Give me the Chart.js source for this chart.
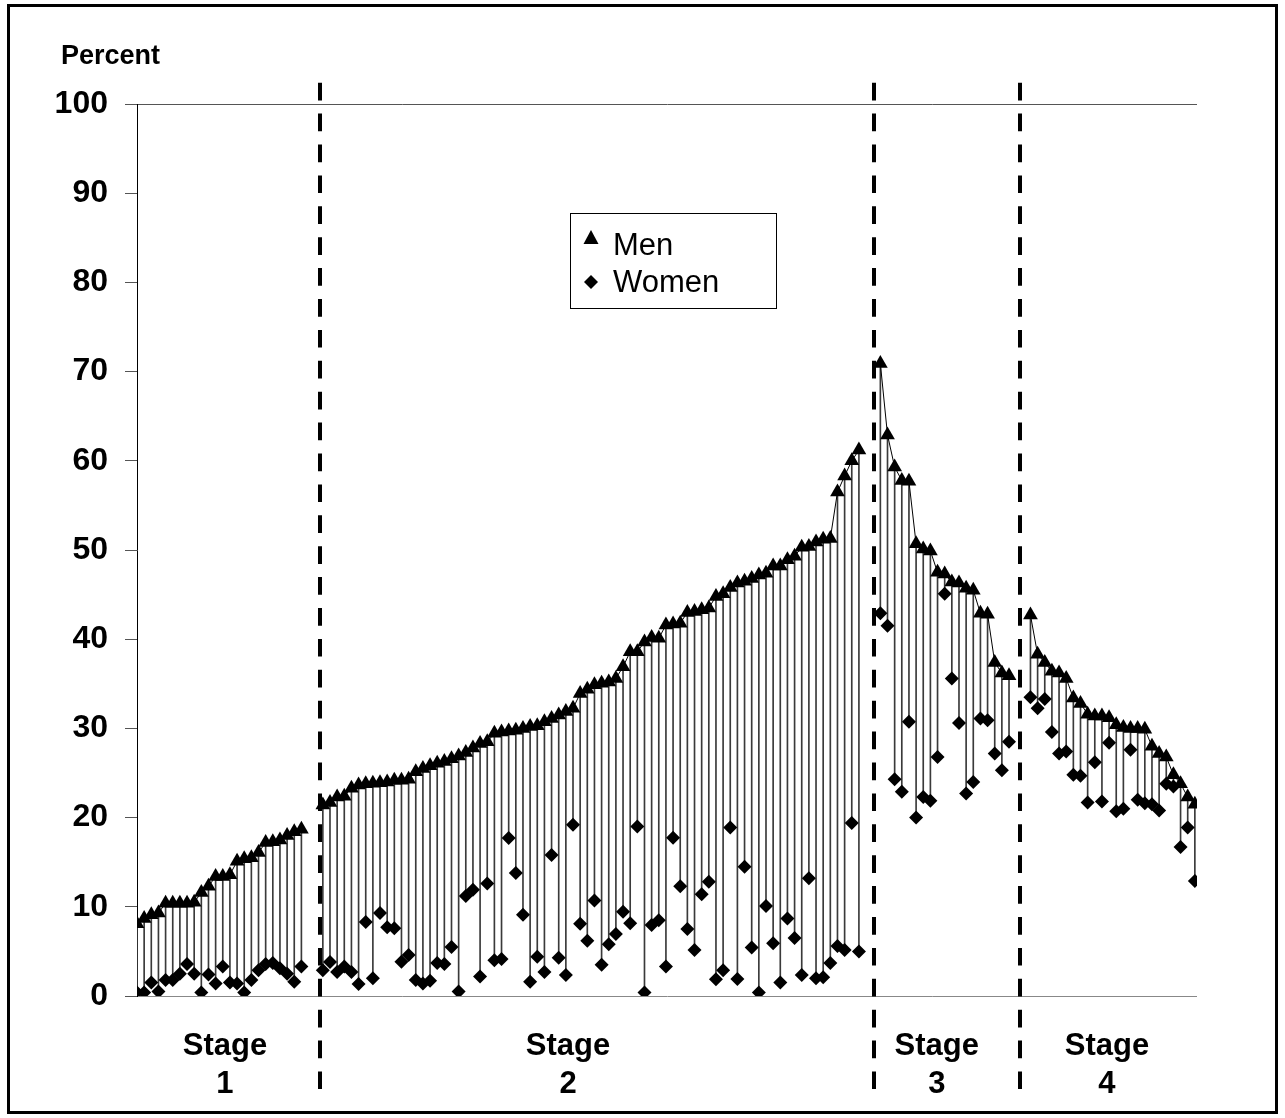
<!DOCTYPE html>
<html>
<head>
<meta charset="utf-8">
<script src="https://cdn.jsdelivr.net/npm/chart.js@4.4.1/dist/chart.umd.min.js"></script>
<style>
  html, body { margin: 0; padding: 0; background: #fff; }
  #wrap { width: 1285px; height: 1118px; }
</style>
</head>
<body>
<div id="wrap"><canvas id="stageChart" width="1285" height="1118"></canvas></div>
<script>
// Men / Women percent, 4 stages

const stage1Men = [8.1, 8.7, 9.1, 9.3, 10.4, 10.4, 10.4, 10.4, 10.5, 11.6, 12.3, 13.4, 13.4, 13.6, 15.1, 15.4, 15.5, 16.1, 17.2, 17.3, 17.5, 18.0, 18.4, 18.7];
const stage1Women = [0.4, 0.4, 1.5, 0.5, 1.8, 1.8, 2.5, 3.6, 2.5, 0.4, 2.4, 1.4, 3.3, 1.5, 1.4, 0.4, 1.8, 2.9, 3.6, 3.7, 3.1, 2.5, 1.6, 3.3];

const stage2Men = [
    21.4, 21.7, 22.3, 22.4, 23.3, 23.65, 23.8, 23.85, 23.9, 24.0,
    24.2, 24.2, 24.3, 25.15, 25.5, 25.8, 26.1, 26.3, 26.6, 26.9,
    27.3, 27.8, 28.3, 28.5, 29.45, 29.6, 29.7, 29.8, 30.0, 30.2,
    30.3, 30.75, 31.1, 31.5, 31.9, 32.25, 33.9, 34.4, 34.9, 35.05,
    35.2, 35.6, 36.9, 38.6, 38.6, 39.7, 40.2, 40.1, 41.6, 41.7,
    41.8, 43.0, 43.1, 43.3, 43.5, 44.8, 45.1, 45.8, 46.3, 46.5,
    46.8, 47.2, 47.4, 48.2, 48.2, 48.9, 49.3, 50.3, 50.4, 50.9,
    51.2, 51.3, 56.5, 58.3, 60.0, 61.2
];
const stage2Women = [
    2.9, 3.8, 2.7, 3.3, 2.7, 1.35, 8.3, 2.0, 9.3, 7.7,
    7.6, 3.85, 4.6, 1.8, 1.4, 1.7, 3.7, 3.6, 5.5, 0.5,
    11.2, 11.9, 2.2, 12.6, 4.0, 4.15, 17.7, 13.8, 9.1, 1.6,
    4.4, 2.7, 15.8, 4.3, 2.35, 19.2, 8.1, 6.2, 10.7, 3.5,
    5.8, 6.95, 9.45, 8.15, 19.0, 0.4, 7.96, 8.5, 3.3, 17.75,
    12.3, 7.5, 5.15, 11.4, 12.8, 1.87, 2.9, 18.9, 1.9, 14.5,
    5.45, 0.4, 10.1, 5.9, 1.5, 8.7, 6.5, 2.35, 13.2, 2.0,
    2.1, 3.7, 5.6, 5.15, 19.4, 5.0
];

const stage3Men = [70.9, 62.9, 59.3, 57.8, 57.7, 50.7, 50.1, 49.9, 47.5, 47.3, 46.4, 46.3, 45.7, 45.5, 42.9, 42.8, 37.4, 36.2, 35.9];
const stage3Women = [42.9, 41.5, 24.3, 22.9, 30.75, 20.0, 22.3, 21.9, 26.8, 45.1, 35.6, 30.6, 22.7, 24.0, 31.1, 30.9, 27.2, 25.3, 28.5];

const stage4Men = [42.7, 38.3, 37.4, 36.4, 36.2, 35.6, 33.4, 32.8, 31.6, 31.4, 31.4, 31.2, 30.4, 30.1, 30.0, 30.0, 29.9, 28.0, 27.2, 26.8, 24.8, 23.8, 22.3, 21.5];
const stage4Women = [33.5, 32.25, 33.3, 29.6, 27.2, 27.4, 24.8, 24.7, 21.7, 26.2, 21.8, 28.4, 20.7, 21.0, 27.6, 22.0, 21.6, 21.5, 20.8, 23.8, 23.5, 16.7, 18.9, 12.9];

// category slot where each stage begins (two empty slots between stages)
const stageStart = [0, 26, 104, 125];
const stageDividers = [25.6, 103.1, 123.6];
const stageLabels = [['Stage', '1'], ['Stage', '2'], ['Stage', '3'], ['Stage', '4']];
const stageLabelPos = [12.3, 60.3, 111.9, 135.7];
const yTicks = [0, 10, 20, 30, 40, 50, 60, 70, 80, 90, 100];

const menStages = [stage1Men, stage2Men, stage3Men, stage4Men];
const womenStages = [stage1Women, stage2Women, stage3Women, stage4Women];

const FONT = "'Liberation Sans', Arial, sans-serif";

// ==================== BUILD DATA ====================

const menPoints = [];
const womenPoints = [];
const stemPoints = [];

menStages.forEach((men, s) => {
    if (s > 0) menPoints.push({ x: stageStart[s] - 1, y: null }); // break line
    men.forEach((v, i) => {
        const x = stageStart[s] + i;
        const w = womenStages[s][i];
        menPoints.push({ x: x, y: v });
        womenPoints.push({ x: x, y: w });
        stemPoints.push({ x: x, y: [w, v] });
    });
});

// ==================== PLUGINS ====================

const decorPlugin = {
    id: 'decor',
    afterDraw(chart) {
        const ctx = chart.ctx;
        const xs = chart.scales.x;
        ctx.save();

        // outer frame
        ctx.strokeStyle = '#000';
        ctx.lineWidth = 3;
        ctx.strokeRect(8.5, 5.5, 1268, 1107);

        // Percent title
        ctx.fillStyle = '#000';
        ctx.font = 'bold 27px ' + FONT;
        ctx.textAlign = 'left';
        ctx.textBaseline = 'middle';
        ctx.fillText('Percent', 61, 57);

        // stage dividers
        ctx.lineWidth = 4;
        ctx.setLineDash([17.7, 13.2]);
        stageDividers.forEach(v => {
            const px = Math.round(xs.getPixelForValue(v));
            ctx.beginPath();
            ctx.moveTo(px, 82.7);
            ctx.lineTo(px, 1089);
            ctx.stroke();
        });
        ctx.setLineDash([]);

        // stage labels
        ctx.font = 'bold 31px ' + FONT;
        ctx.textAlign = 'center';
        stageLabels.forEach((lines, i) => {
            const px = xs.getPixelForValue(stageLabelPos[i]);
            ctx.fillText(lines[0], px, 1046);
            ctx.fillText(lines[1], px, 1084);
        });

        // legend
        ctx.lineWidth = 1;
        ctx.fillStyle = '#fff';
        ctx.fillRect(570.5, 213.5, 206, 95);
        ctx.strokeRect(570.5, 213.5, 206, 95);
        ctx.fillStyle = '#000';
        ctx.beginPath();
        ctx.moveTo(591, 230);
        ctx.lineTo(598.5, 244);
        ctx.lineTo(583.5, 244);
        ctx.closePath();
        ctx.fill();
        ctx.beginPath();
        ctx.moveTo(591, 275);
        ctx.lineTo(598, 282);
        ctx.lineTo(591, 289);
        ctx.lineTo(584, 282);
        ctx.closePath();
        ctx.fill();
        ctx.font = '31px ' + FONT;
        ctx.textAlign = 'left';
        ctx.fillText('Men', 613, 246);
        ctx.fillText('Women', 613, 283);

        ctx.restore();
    }
};

// ==================== CHART ====================

const chart = new Chart(document.getElementById('stageChart'), {
    data: {
        datasets: [
            {
                type: 'bar',
                label: 'range',
                data: stemPoints,
                backgroundColor: '#3a3a3a',
                barThickness: 1,
                grouped: false,
                order: 3
            },
            {
                type: 'line',
                label: 'Women',
                data: womenPoints,
                showLine: false,
                pointStyle: 'rectRot',
                pointRadius: 7,
                pointBackgroundColor: '#000',
                pointBorderColor: '#000',
                pointBorderWidth: 0,
                order: 2
            },
            {
                type: 'line',
                label: 'Men',
                data: menPoints,
                borderColor: '#000',
                borderWidth: 1,
                spanGaps: false,
                pointStyle: 'triangle',
                pointRadius: 8.5,
                pointBackgroundColor: '#000',
                pointBorderColor: '#000',
                pointBorderWidth: 0,
                order: 1
            }
        ]
    },
    options: {
        responsive: false,
        animation: false,
        devicePixelRatio: 1,
        layout: {
            padding: { top: 104, right: 88, left: 0, bottom: 0 }
        },
        plugins: {
            legend: { display: false },
            tooltip: { enabled: false }
        },
        scales: {
            x: {
                type: 'linear',
                min: 0,
                max: 148.3,
                offset: false,
                ticks: { display: false },
                grid: { display: false, offset: false },
                border: { display: false },
                afterFit: function(scale) { scale.height = 122; }
            },
            y: {
                min: 0,
                max: 100,
                afterBuildTicks: function(scale) {
                    scale.ticks = yTicks.map(v => ({ value: v }));
                },
                afterFit: function(scale) { scale.width = 137; },
                ticks: {
                    color: '#000',
                    padding: 17,
                    font: { family: FONT, size: 32, weight: 'bold' }
                },
                grid: {
                    tickLength: 12,
                    tickColor: '#555',
                    color: function(context) {
                        const v = context.tick && context.tick.value;
                        if (v === 100) return '#555';
                        if (v === 0) return '#888';
                        return 'rgba(0,0,0,0)';
                    }
                },
                border: { color: '#000', width: 1 }
            }
        }
    },
    plugins: [decorPlugin]
});
</script>
</body>
</html>
